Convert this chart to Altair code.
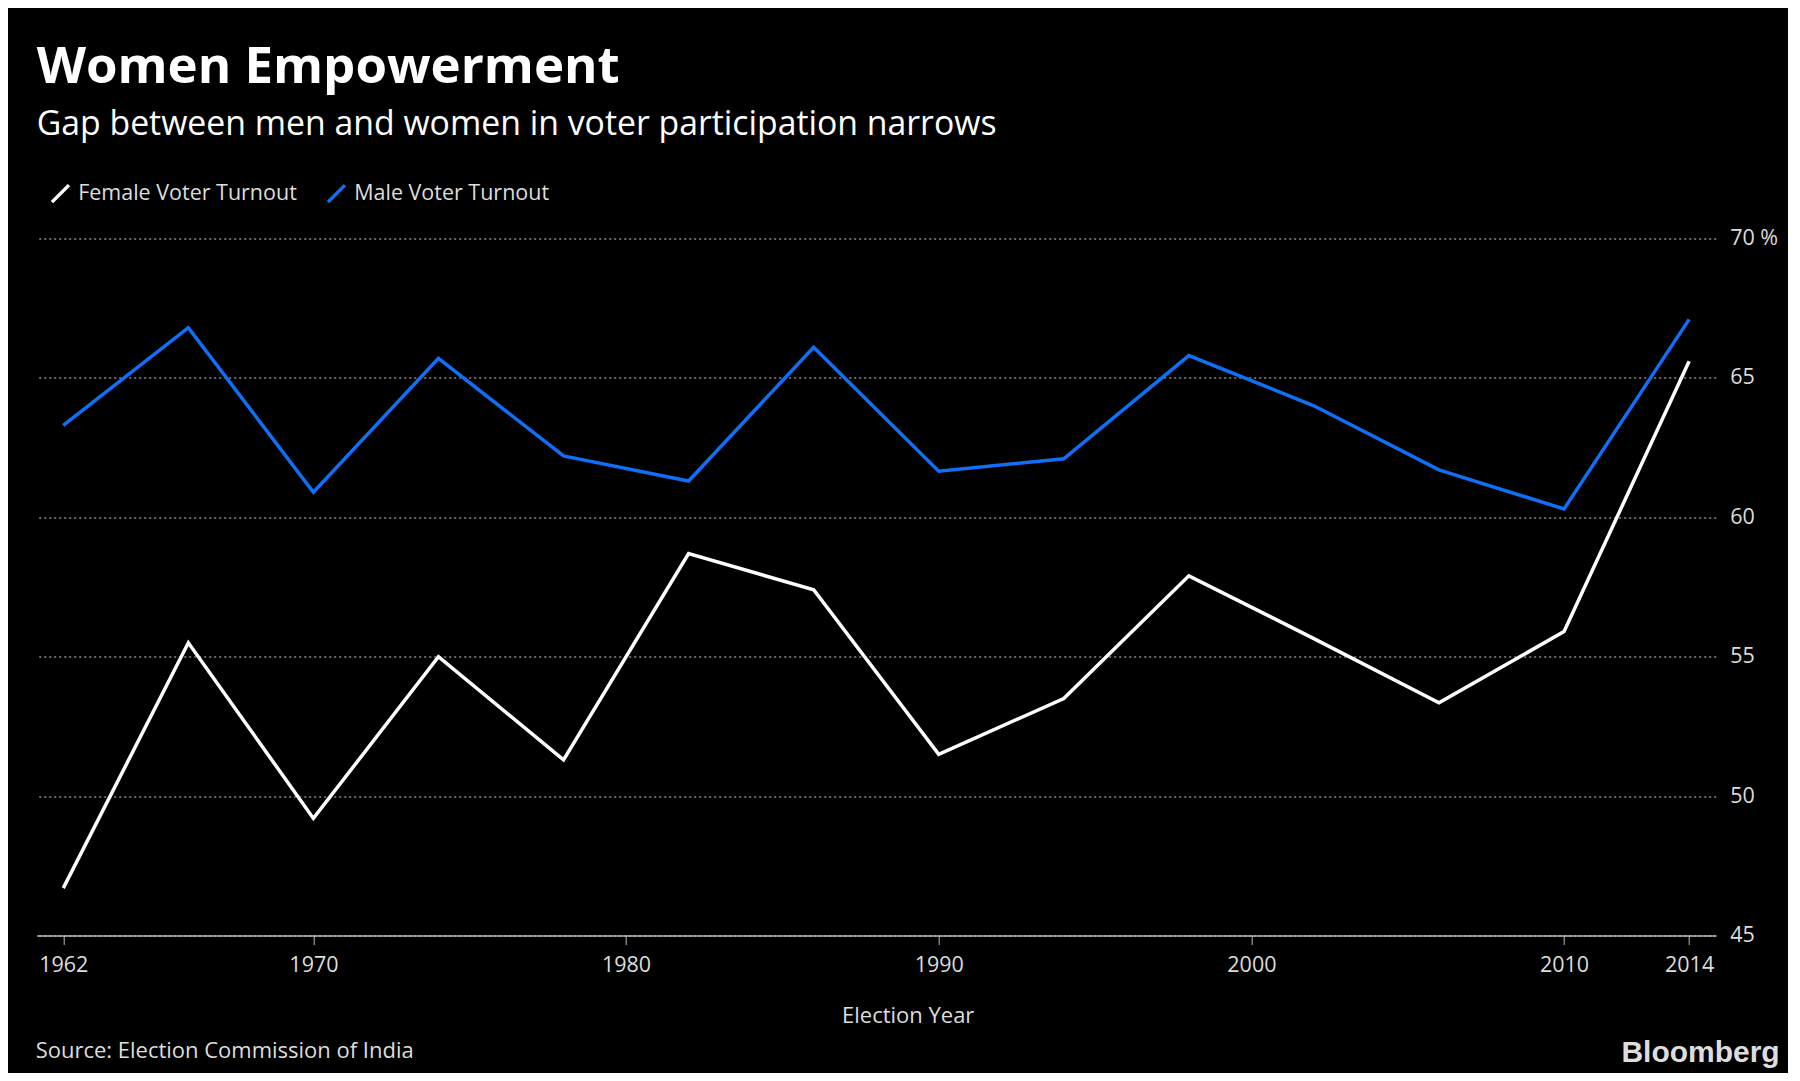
import altair as alt
import pandas as pd

years = [1962, 1966, 1970, 1974, 1978, 1982, 1986, 1990, 1994, 1998, 2002, 2006, 2010, 2014]
female = [46.7, 55.5, 49.2, 55.0, 51.3, 58.7, 57.4, 51.5, 53.5, 57.9, 55.65, 53.35, 55.9, 65.6]
male = [63.3, 66.8, 60.9, 65.7, 62.2, 61.3, 66.1, 61.65, 62.1, 65.8, 64.0, 61.7, 60.3, 67.1]
series_names = ["Female Voter Turnout", "Male Voter Turnout"]
x_ticks = [1962, 1970, 1980, 1990, 2000, 2010, 2014]
y_ticks = [45, 50, 55, 60, 65, 70]
title_text = "Women Empowerment"
subtitle_text = "Gap between men and women in voter participation narrows"
source_text = "Source: Election Commission of India"
brand_text = "Bloomberg"

rows = []
for y, f, m in zip(years, female, male):
    rows.append({"year": y, "series": series_names[0], "value": f})
    rows.append({"year": y, "series": series_names[1], "value": m})
df = pd.DataFrame(rows)

FONT = "Open Sans"
W, H = 1679, 697

lines = alt.Chart(df).mark_line(strokeWidth=3.5, strokeJoin="miter").encode(
    x=alt.X("year:Q",
            scale=alt.Scale(domain=[1961.15, 2014.85], nice=False, zero=False),
            axis=alt.Axis(values=x_ticks, format="d", grid=False, domain=True,
                          domainColor="#bbbbbb", domainWidth=1.5,
                          tickColor="#bbbbbb", tickSize=9, tickWidth=1,
                          labelPadding=10, labelFlush=False, labelOverlap=False,
                          labelFont=FONT, labelFontSize=21.5, labelColor="#dddddd",
                          title="Election Year", titleFont=FONT, titleFontSize=22,
                          titleFontWeight="normal", titleColor="#dddddd",
                          titleX=871, titleY=80, titleBaseline="middle",
                          titleAnchor="start", titleAlign="center")),
    y=alt.Y("value:Q",
            scale=alt.Scale(domain=[45, 70], nice=False, zero=False),
            axis=alt.Axis(orient="right", values=y_ticks, grid=True,
                          gridColor="#8a8a8a", gridDash=[2, 3], gridWidth=1.5,
                          domain=False, ticks=False, labelPadding=14,
                          labelExpr="datum.value == 70 ? '70 %' : datum.label",
                          labelFont=FONT, labelFontSize=21.5, labelColor="#dddddd",
                          title=None)),
    color=alt.Color("series:N",
                    scale=alt.Scale(domain=series_names, range=["#ffffff", "#0f6ff6"]),
                    legend=alt.Legend(orient="none", legendX=13, legendY=-56,
                                      direction="horizontal", title=None,
                                      symbolType="M-1,1L1,-1", symbolSize=289,
                                      symbolStrokeWidth=3.5, labelOffset=7,
                                      columnPadding=23, padding=0, labelLimit=0,
                                      labelFont=FONT, labelFontSize=21.5,
                                      labelColor="#dddddd")),
    order="year:Q",
)

src = alt.Chart(pd.DataFrame({"t": [source_text]})).mark_text(
    align="left", baseline="middle", font=FONT, fontSize=22, color="#dddddd"
).encode(text="t:N", x=alt.value(-1), y=alt.value(813))

brand = alt.Chart(pd.DataFrame({"t": [brand_text]})).mark_text(
    align="right", baseline="middle", font="Liberation Sans", fontSize=30,
    fontWeight="bold", color="#dddddd"
).encode(text="t:N", x=alt.value(1743), y=alt.value(815))

chart = alt.layer(lines, src, brand).properties(
    width=W, height=H,
    title=alt.TitleParams(text=title_text, subtitle=subtitle_text,
                          anchor="start", frame="group", font=FONT,
                          fontSize=51, fontWeight="bold", color="#ffffff",
                          subtitleFont=FONT, subtitleFontSize=33.8,
                          subtitleColor="#ffffff", subtitlePadding=14, offset=40),
    autosize=alt.AutoSizeParams(type="none"),
    padding={"left": 28.7, "top": 230.5, "right": 72, "bottom": 137},
    background="#000000",
).configure_view(stroke=None)

chart.save("out.html", embed_options={"renderer": "svg", "actions": False})
